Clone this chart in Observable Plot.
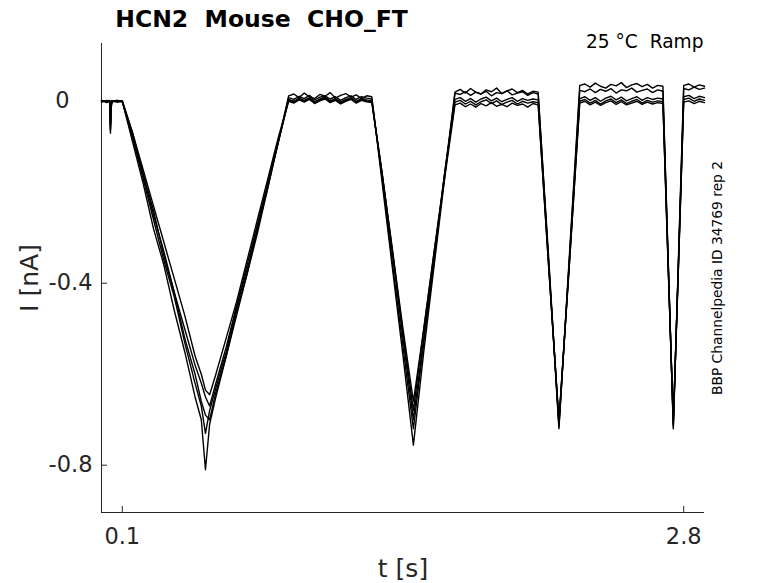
<!DOCTYPE html>
<html>
<head>
<meta charset="utf-8">
<script src="https://cdn.jsdelivr.net/npm/d3@7"></script>
<script src="https://cdn.jsdelivr.net/npm/@observablehq/plot@0.6"></script>
<style>
  html, body { margin: 0; padding: 0; background: #fff; }
  svg text { white-space: pre; }
</style>
</head>
<body>
<div id="chart"></div>
<script>
// Time points (s)
const time = [
  0, 0.025, 0.04, 0.043, 0.046, 0.05, 0.075, 0.1,
  0.15, 0.2, 0.25, 0.3, 0.35, 0.4, 0.45, 0.48, 0.5, 0.52, 0.55, 0.6, 0.65, 0.7, 0.75, 0.8, 0.85, 0.9,
  0.925, 0.95, 0.975, 1, 1.025, 1.05, 1.075, 1.1, 1.125, 1.15, 1.175, 1.2, 1.225, 1.25, 1.275, 1.3,
  1.35, 1.4, 1.45, 1.5, 1.55, 1.6, 1.65, 1.7,
  1.725, 1.75, 1.775, 1.8, 1.825, 1.85, 1.875, 1.9, 1.925, 1.95, 1.975, 2, 2.025, 2.05, 2.075, 2.1,
  2.15, 2.2, 2.25, 2.3,
  2.325, 2.35, 2.375, 2.4, 2.425, 2.45, 2.475, 2.5, 2.525, 2.55, 2.575, 2.6, 2.625, 2.65, 2.675, 2.7,
  2.725, 2.75, 2.775, 2.8,
  2.825, 2.85, 2.875, 2.9
];

// Current traces (nA), one per repetition
const rep1 = [
  0.002, -0.003, 0.001, -0.07, -0.02, 0.001, -0.002, 0.0,
  -0.09, -0.18, -0.28, -0.36, -0.46, -0.55, -0.65, -0.70, -0.81, -0.71, -0.65, -0.56, -0.47, -0.38, -0.29, -0.19, -0.09, 0.012,
  0.016, 0.008, 0.018, 0.01, 0.006, 0.015, 0.011, 0.019, 0.007, 0.013, 0.017, 0.009, 0.014, 0.006, 0.012, 0.01,
  -0.18, -0.37, -0.56, -0.756, -0.55, -0.36, -0.17, 0.02,
  0.026, 0.018, 0.028, 0.02, 0.016, 0.025, 0.021, 0.029, 0.017, 0.023, 0.027, 0.019, 0.024, 0.016, 0.022, 0.02,
  -0.35, -0.72, -0.34, 0.035,
  0.038, 0.031, 0.04, 0.033, 0.029, 0.037, 0.034, 0.041, 0.03, 0.036, 0.039, 0.032, 0.037, 0.029, 0.035, 0.033,
  -0.34, -0.72, -0.34, 0.035,
  0.038, 0.031, 0.036, 0.033
];
const rep2 = [
  -0.002, 0.002, -0.001, -0.065, -0.015, 0.0, 0.002, -0.001,
  -0.08, -0.17, -0.26, -0.35, -0.43, -0.53, -0.62, -0.67, -0.73, -0.68, -0.63, -0.55, -0.45, -0.37, -0.28, -0.18, -0.09, 0.008,
  0.004, 0.011, 0.006, 0.013, 0.003, 0.009, 0.012, 0.005, 0.01, 0.002, 0.008, 0.012, 0.004, 0.01, 0.007, 0.005,
  -0.17, -0.36, -0.54, -0.72, -0.53, -0.35, -0.16, 0.018,
  0.015, 0.021, 0.013, 0.02, 0.016, 0.022, 0.012, 0.019, 0.017, 0.023, 0.014, 0.018, 0.021, 0.013, 0.019, 0.016,
  -0.34, -0.715, -0.35, 0.024,
  0.021, 0.027, 0.019, 0.026, 0.022, 0.028, 0.018, 0.025, 0.023, 0.029, 0.02, 0.024, 0.027, 0.019, 0.025, 0.022,
  -0.35, -0.715, -0.35, 0.028,
  0.025, 0.031, 0.026, 0.029
];
const rep3 = [
  0.001, -0.001, 0.002, -0.06, -0.01, -0.002, 0.001, 0.001,
  -0.07, -0.16, -0.24, -0.34, -0.42, -0.52, -0.60, -0.66, -0.69, -0.70, -0.64, -0.56, -0.46, -0.38, -0.28, -0.19, -0.09, 0.004,
  0.0, 0.007, 0.002, 0.008, -0.001, 0.005, 0.009, 0.001, 0.006, -0.002, 0.004, 0.008, 0.0, 0.006, 0.003, 0.001,
  -0.16, -0.34, -0.52, -0.70, -0.52, -0.34, -0.16, 0.004,
  0.008, 0.0, 0.006, -0.002, 0.005, 0.009, 0.001, 0.007, -0.001, 0.004, 0.008, 0.0, 0.006, 0.002, 0.005, 0.003,
  -0.35, -0.71, -0.35, 0.006,
  0.01, 0.002, 0.008, 0.0, 0.007, 0.011, 0.003, 0.009, 0.001, 0.006, 0.01, 0.002, 0.008, 0.004, 0.007, 0.005,
  -0.35, -0.71, -0.35, 0.01,
  0.013, 0.006, 0.011, 0.008
];
const rep4 = [
  -0.001, 0.001, 0.0, -0.055, -0.012, 0.001, -0.001, 0.0,
  -0.08, -0.16, -0.25, -0.33, -0.42, -0.50, -0.58, -0.62, -0.65, -0.67, -0.62, -0.54, -0.45, -0.36, -0.27, -0.18, -0.09, 0.002,
  -0.002, 0.005, 0.0, 0.006, -0.003, 0.003, 0.007, -0.001, 0.004, -0.004, 0.002, 0.006, -0.002, 0.004, 0.001, -0.001,
  -0.16, -0.33, -0.51, -0.68, -0.50, -0.33, -0.16, -0.002,
  0.002, -0.006, 0.0, -0.008, -0.001, 0.003, -0.005, 0.001, -0.007, -0.002, 0.002, -0.006, 0.0, -0.004, -0.001, -0.003,
  -0.36, -0.705, -0.36, 0.0,
  0.004, -0.004, 0.002, -0.006, 0.001, 0.005, -0.003, 0.003, -0.005, 0.0, 0.004, -0.004, 0.002, -0.002, 0.001, -0.001,
  -0.36, -0.705, -0.36, 0.004,
  0.007, 0.0, 0.005, 0.002
];
const rep5 = [
  0.002, 0.0, -0.002, -0.05, -0.008, 0.0, 0.002, 0.0,
  -0.07, -0.15, -0.23, -0.31, -0.39, -0.47, -0.56, -0.60, -0.635, -0.645, -0.60, -0.52, -0.44, -0.35, -0.26, -0.17, -0.08, 0.0,
  -0.004, 0.003, -0.002, 0.004, -0.005, 0.001, 0.005, -0.003, 0.002, -0.006, 0.0, 0.004, -0.004, 0.002, -0.001, -0.003,
  -0.16, -0.33, -0.50, -0.66, -0.50, -0.33, -0.17, -0.008,
  -0.004, -0.012, -0.006, -0.013, -0.005, -0.01, -0.003, -0.011, -0.007, -0.012, -0.004, -0.009, -0.006, -0.013, -0.005, -0.008,
  -0.36, -0.70, -0.36, -0.004,
  0.0, -0.008, -0.002, -0.009, -0.003, 0.001, -0.007, -0.001, -0.008, -0.004, 0.0, -0.007, -0.002, -0.006, -0.003, -0.005,
  -0.36, -0.70, -0.36, -0.002,
  0.001, -0.005, 0.0, -0.003
];

const xTicks = [0.1, 2.8];
const yTicks = [-0.8, -0.4];
const yZeroTick = [0];
const title = "HCN2  Mouse  CHO_FT";
const subtitle = "25 °C  Ramp";
const sideNote = "BBP Channelpedia ID 34769 rep 2";
const xLabel = "t [s]";
const yLabel = "I [nA]";

const reps = [rep1, rep2, rep3, rep4, rep5];
const data = reps.flatMap((r, k) => r.map((v, j) => ({t: time[j], i: v, rep: "rep" + (k + 1)})));

const axisColor = "#262626";

const chart = Plot.plot({
  width: 778,
  height: 583,
  marginLeft: 101,
  marginRight: 74,
  marginTop: 43,
  marginBottom: 71,
  style: {fontFamily: "'DejaVu Sans', sans-serif", fontSize: "22px", background: "#fff", color: axisColor},
  x: {domain: [0, 2.9]},
  y: {domain: [-0.904, 0.127]},
  marks: [
    Plot.ruleY([-0.904], {stroke: axisColor, strokeWidth: 1}),
    Plot.ruleX([0], {stroke: axisColor, strokeWidth: 1}),
    Plot.axisX({ticks: xTicks, tickSize: -6, tickPadding: 22, tickFormat: d => d.toFixed(1), label: null, stroke: axisColor, fill: axisColor, fontSize: 22.5}),
    Plot.axisY({ticks: yTicks, tickSize: -6, tickPadding: 15, tickFormat: d => d.toFixed(1), label: null, stroke: axisColor, fill: axisColor, fontSize: 22.5}),
    Plot.axisY({ticks: yZeroTick, tickSize: -6, tickPadding: 38, tickFormat: d => "0", label: null, stroke: axisColor, fill: axisColor, fontSize: 22.5}),
    Plot.line(data, {x: "t", y: "i", z: "rep", stroke: "#000", strokeWidth: 1.4}),
    Plot.text([title], {frameAnchor: "top-left", dx: 160, dy: -24, text: d => d, textAnchor: "middle", lineAnchor: "middle", fontSize: 23.5, fontWeight: "bold", fill: "#000"}),
    Plot.text([subtitle], {frameAnchor: "top-right", dx: -1, dy: -1, text: d => d, textAnchor: "end", lineAnchor: "middle", fontSize: 18.6, fill: "#000"}),
    Plot.text([xLabel], {frameAnchor: "bottom", dy: 56, text: d => d, textAnchor: "middle", lineAnchor: "middle", fontSize: 25, fill: axisColor}),
    Plot.text([yLabel], {frameAnchor: "left", dx: -72, text: d => d, rotate: -90, textAnchor: "middle", lineAnchor: "middle", fontSize: 25, fill: axisColor}),
    Plot.text([sideNote], {frameAnchor: "right", dx: 13, text: d => d, rotate: -90, textAnchor: "middle", lineAnchor: "middle", fontSize: 13.8, fill: "#000"})
  ]
});
document.getElementById("chart").appendChild(chart);
</script>
</body>
</html>
